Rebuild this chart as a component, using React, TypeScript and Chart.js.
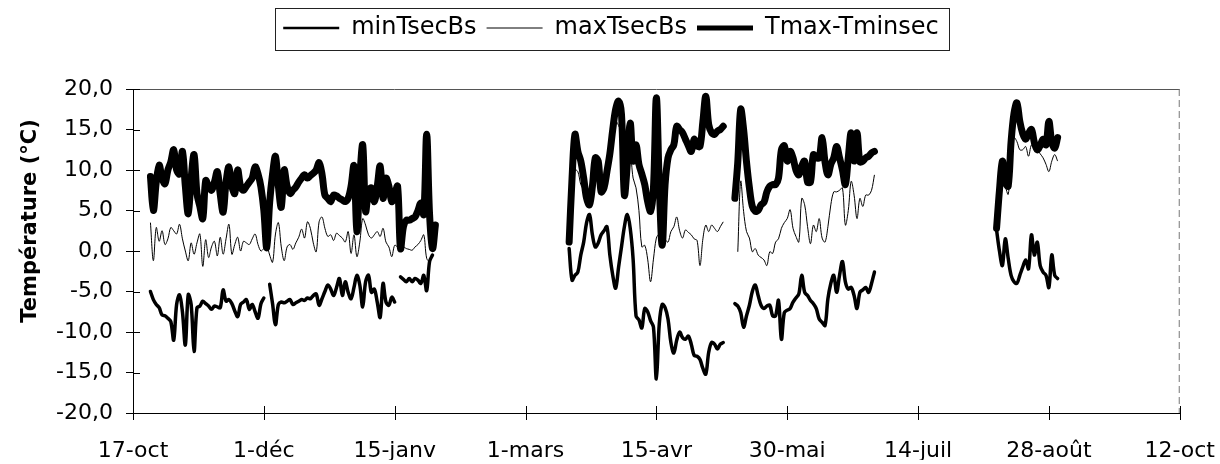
import { useEffect, useRef } from 'react';
import { Chart, registerables } from 'chart.js';

Chart.register(...registerables);

const FONT = "'DejaVu Sans', 'Liberation Sans', sans-serif";

// x axis: days counted from 17 October
const xTickLabels = ['17-oct', '1-déc', '15-janv', '1-mars', '15-avr', '30-mai', '14-juil', '28-août', '12-oct'];
const xStepDays = 45;
const xMaxDay = 360;
const yMin = -20;
const yMax = 20;
const yStep = 5;
const yTitle = 'Température (°C)';
const seriesNames = ['minTsecBs', 'maxTsecBs', 'Tmax-Tminsec'];
const legendLineWidths = [2.5, 1, 5];

// minTsecBs segments (first day of each segment, then daily values)
const minStarts = [6, 47, 92, 150, 207, 297];
const minSeg1 = [-5.0, -6.0, -6.6, -7.0, -7.9, -8.0, -8.3, -8.7, -11.0, -6.6, -5.4, -7.5, -11.6, -5.4, -6.6, -12.4, -7.0, -6.8, -6.2, -6.5, -6.8, -7.2, -6.8, -6.9, -7.0, -4.8, -6.2, -6.0, -6.5, -7.4, -8.1, -6.6, -6.3, -6.0, -7.2, -6.6, -7.5, -8.3, -6.5, -5.8];
const minSeg2 = [-4.1, -6.5, -9.1, -6.6, -6.3, -6.4, -6.2, -6.0, -6.6, -6.4, -6.2, -6.0, -6.1, -5.8, -5.9, -5.5, -5.3, -6.7, -5.9, -5.0, -4.2, -4.7, -5.5, -4.5, -3.4, -5.5, -3.8, -5.1, -5.9, -4.5, -3.0, -4.2, -6.9, -3.8, -3.0, -5.1, -4.7, -6.3, -8.2, -4.0, -6.3, -6.7, -5.7, -6.3];
const minSeg3 = [-3.2, -3.5, -3.8, -3.4, -3.8, -3.4, -3.6, -4.0, -3.0, -4.9, -1.3, -0.5];
const minSeg4 = [0.3, -3.6, -3.0, -2.6, -0.5, 1.1, 3.5, 4.5, 2.0, 0.5, 1.0, 2.0, 2.5, 3.0, -0.5, -3.0, -4.6, -2.0, 0.5, 3.0, 4.5, 2.8, -1.0, -8.0, -8.5, -9.5, -7.1, -7.5, -8.6, -9.4, -15.8, -9.0, -6.6, -7.0, -8.4, -11.3, -12.6, -11.0, -10.0, -10.7, -10.9, -10.5, -11.5, -12.9, -13.0, -13.4, -14.5, -15.2, -12.5, -11.3, -11.5, -12.1, -11.5, -11.3];
const minSeg5 = [-6.5, -6.8, -7.6, -9.4, -8.0, -6.7, -5.0, -4.2, -5.5, -6.7, -7.1, -6.8, -6.7, -8.0, -8.0, -6.1, -10.9, -7.6, -7.3, -7.1, -6.3, -5.8, -5.3, -3.0, -5.1, -5.5, -6.1, -6.5, -7.1, -8.4, -8.8, -9.2, -5.9, -4.0, -3.0, -5.1, -3.0, -1.3, -3.8, -4.7, -4.5, -5.5, -7.1, -5.1, -4.8, -4.5, -5.1, -4.0, -2.6];
const minSeg6 = [2.6, 0.0, -1.8, 1.5, -0.9, -3.0, -3.8, -4.0, -3.0, -2.0, -1.1, -2.2, 2.0, -0.5, 1.1, -1.8, -2.6, -3.0, -4.5, -0.5, -3.0, -3.4];

// maxTsecBs segments
const maxStarts = [6, 150, 208, 297];
const maxSeg1 = [3.5, -1.2, 2.9, 1.2, 2.5, 0.8, 1.5, 2.9, 2.5, 2.1, 3.3, 1.5, 0.0, -1.2, 1.0, -0.4, 1.0, 2.1, -1.9, 1.4, -0.8, 0.5, 1.2, -0.6, 1.7, -0.4, 1.5, 3.3, -0.4, 0.8, 1.7, 0.0, 1.2, 1.0, 0.8, 1.5, 2.1, 0.8, 0.0, 0.3, 0.6, -0.5, -1.4, 2.1, 3.5, 0.5, -1.2, 0.5, 0.8, 0.2, 1.0, 1.7, 2.7, 1.6, 3.6, 2.8, 1.0, -0.1, 3.6, 4.2, 2.8, 1.8, 2.0, 1.3, 2.2, 1.9, 1.6, 1.1, 2.4, -0.3, 2.0, -0.7, 1.1, 4.0, 3.2, 2.0, 1.6, 2.0, 2.4, 1.8, 2.8, 1.1, 0.5, -0.7, 0.7, 0.5, 0.3, 0.5, 0.3, 0.2, 0.1, 0.5, 0.8, 1.3, 2.0, -0.9, -1.3, -0.5];
const maxSeg2 = [1.0, 7.0, 10.0, 9.8, 8.2, 7.5, 6.0, 5.5, 7.0, 10.0, 10.0, 7.0, 7.5, 9.0, 11.5, 14.5, 16.0, 15.5, 14.4, 8.0, 10.0, 12.0, 9.0, 7.8, 5.0, 0.5, 0.7, -1.0, -3.8, -1.0, 1.6, 2.2, 2.8, 1.5, 1.1, 2.4, 3.0, 4.2, 2.5, 1.6, 2.6, 2.3, 2.0, 1.5, 1.3, -1.8, 1.5, 3.2, 2.4, 3.2, 2.8, 2.4, 3.0, 3.6];
const maxSeg3 = [-0.1, 8.6, 4.9, 2.4, 1.6, -0.1, 0.3, -0.5, -0.8, -1.1, -1.8, -0.1, -0.3, 1.1, 1.5, 2.8, 3.5, 4.0, 5.1, 2.8, 1.8, 1.1, 6.5, 5.7, 3.0, 0.9, 3.2, 2.4, 4.0, 1.6, 1.1, 3.0, 5.7, 7.3, 7.3, 7.5, 7.8, 3.2, 5.0, 8.6, 6.9, 4.0, 6.5, 5.5, 6.9, 6.9, 7.5, 9.4];
const maxSeg4 = [2.8, 5.0, 9.0, 8.0, 7.0, 11.0, 14.0, 13.5, 12.5, 12.5, 12.9, 11.7, 13.1, 12.8, 12.5, 12.0, 11.5, 10.7, 9.8, 11.1, 11.9, 11.1];

// Tmax-Tminsec segments
const ampStarts = [6, 150, 207, 297];
const ampSeg1 = [9.2, 5.0, 8.5, 10.6, 9.0, 8.3, 10.0, 11.0, 12.5, 10.0, 9.5, 12.3, 8.0, 4.6, 9.0, 11.9, 7.1, 5.5, 4.0, 8.7, 8.0, 7.5, 8.5, 9.8, 7.0, 4.8, 8.5, 10.4, 8.0, 7.1, 10.0, 8.0, 7.5, 8.0, 8.5, 9.0, 10.4, 9.5, 7.9, 5.0, 0.4, 6.0, 9.5, 11.7, 8.0, 5.4, 10.0, 8.0, 7.1, 7.5, 7.9, 8.5, 9.0, 9.4, 9.0, 9.3, 9.6, 10.0, 10.9, 9.5, 6.9, 6.5, 6.1, 6.9, 6.8, 6.5, 6.3, 6.1, 6.5, 8.0, 10.5, 2.4, 9.0, 13.1, 4.9, 7.3, 7.8, 6.1, 8.0, 10.5, 6.5, 9.0, 8.0, 6.1, 7.0, 8.0, 0.3, 3.0, 3.8, 3.8, 4.0, 4.2, 5.0, 5.9, 4.5, 14.4, 4.5, 0.3, 3.2];
const ampSeg2 = [1.1, 9.0, 14.4, 12.3, 11.1, 9.0, 6.5, 5.7, 8.0, 11.5, 11.1, 7.3, 7.8, 9.8, 12.0, 15.0, 17.5, 18.5, 16.9, 6.9, 10.7, 15.8, 11.1, 13.1, 10.7, 9.5, 8.2, 6.1, 4.9, 7.8, 18.9, 8.2, 0.7, 8.2, 11.5, 12.5, 13.1, 15.4, 15.0, 14.6, 13.8, 13.0, 12.3, 13.8, 13.0, 12.9, 16.0, 19.1, 15.6, 14.6, 14.4, 14.8, 15.0, 15.4];
const ampSeg3 = [6.5, 11.0, 17.5, 15.0, 11.0, 7.8, 5.5, 4.9, 5.0, 5.7, 6.0, 7.3, 8.0, 8.2, 8.2, 9.0, 12.5, 13.0, 11.1, 12.3, 11.5, 10.0, 9.4, 10.5, 11.1, 8.5, 8.5, 11.9, 11.5, 11.5, 14.0, 11.0, 9.4, 10.7, 11.5, 12.9, 11.5, 10.0, 8.2, 11.5, 14.6, 11.1, 14.6, 11.0, 11.1, 11.5, 11.7, 12.1, 12.3];
const ampSeg4 = [2.8, 7.5, 11.1, 8.5, 8.0, 13.5, 17.0, 18.3, 16.0, 14.5, 13.8, 14.5, 15.0, 13.4, 12.5, 13.0, 13.8, 13.1, 16.0, 13.4, 12.7, 14.0];

type Pt = { x: number; y: number | null };

function buildPoints(starts: number[], segs: number[][]): Pt[] {
  const pts: Pt[] = [];
  segs.forEach((seg, s) => {
    if (s > 0) {
      const prev = pts[pts.length - 1];
      pts.push({ x: prev.x + 0.5, y: null });
    }
    seg.forEach((v, i) => pts.push({ x: starts[s] + i, y: v }));
  });
  return pts;
}

const LEGEND_GAP = 39;
const LEGEND_SHIFT = -6;
const TICK_OUT = 7;
const TICK_IN = 7;

const decorPlugin = {
  id: 'decor',
  beforeInit(chart: any) {
    const lg = chart.legend;
    if (lg && !lg.__patched) {
      const fit = lg.fit.bind(lg);
      lg.fit = function () {
        fit();
        this.height += LEGEND_GAP;
      };
      lg.__patched = true;
    }
  },
  afterLayout(chart: any) {
    const lg = chart.legend;
    if (lg) {
      lg.left += LEGEND_SHIFT;
      lg.right += LEGEND_SHIFT;
    }
  },
  afterDraw(chart: any) {
    const { ctx, chartArea } = chart;
    const { left, right, top, bottom } = chartArea;
    ctx.save();
    // top and right frame lines
    ctx.strokeStyle = '#555';
    ctx.lineWidth = 1;
    ctx.beginPath();
    ctx.moveTo(left, top + 0.5);
    ctx.lineTo(right, top + 0.5);
    ctx.stroke();
    ctx.strokeStyle = '#777';
    ctx.setLineDash([7, 4]);
    ctx.beginPath();
    ctx.moveTo(right - 0.5, top);
    ctx.lineTo(right - 0.5, bottom);
    ctx.stroke();
    ctx.setLineDash([]);
    // tick marks crossing the axes
    ctx.strokeStyle = '#000';
    const xs = chart.scales.x;
    const ys = chart.scales.y;
    ctx.beginPath();
    xs.ticks.forEach((t: any) => {
      const px = Math.round(xs.getPixelForValue(t.value)) + 0.5;
      ctx.moveTo(px, bottom + TICK_OUT);
      ctx.lineTo(px, bottom - TICK_IN);
    });
    ys.ticks.forEach((t: any) => {
      const py = Math.round(ys.getPixelForValue(t.value)) + 0.5;
      ctx.moveTo(left, py);
      ctx.lineTo(left + TICK_IN, py);
    });
    ctx.stroke();
    // legend frame
    const lg = chart.legend;
    if (lg && lg.legendHitBoxes && lg.legendHitBoxes.length) {
      const hb = lg.legendHitBoxes;
      const x0 = hb[0].left - 8;
      const last = hb[hb.length - 1];
      const x1 = last.left + last.width + 10;
      const y0 = hb[0].top - 8;
      const y1 = hb[0].top + hb[0].height + 10;
      ctx.strokeStyle = '#222';
      ctx.lineWidth = 1;
      ctx.strokeRect(Math.round(x0) + 0.5, Math.round(y0) + 0.5, Math.round(x1 - x0), Math.round(y1 - y0));
    }
    // y axis title
    ctx.translate(31, 221);
    ctx.rotate(-Math.PI / 2);
    ctx.font = `bold 21px ${FONT}`;
    ctx.fillStyle = '#000';
    ctx.textAlign = 'center';
    ctx.textBaseline = 'middle';
    ctx.fillText(yTitle, 0, 0);
    ctx.restore();
  },
};

export default function App() {
  const ref = useRef<HTMLCanvasElement | null>(null);

  useEffect(() => {
    if (!ref.current) return;
    const tickFont = { family: FONT, size: 22 };
    const chart = new Chart(ref.current, {
      type: 'line',
      data: {
        datasets: [
          {
            label: seriesNames[0],
            data: buildPoints(minStarts, [minSeg1, minSeg2, minSeg3, minSeg4, minSeg5, minSeg6]) as any,
            borderColor: '#000',
            backgroundColor: '#000',
            borderWidth: 3.5,
            pointRadius: 0,
            tension: 0.35,
            borderJoinStyle: 'round',
            borderCapStyle: 'round',
            spanGaps: false,
            order: 1,
          },
          {
            label: seriesNames[1],
            data: buildPoints(maxStarts, [maxSeg1, maxSeg2, maxSeg3, maxSeg4]) as any,
            borderColor: '#000',
            backgroundColor: '#000',
            borderWidth: 1,
            pointRadius: 0,
            tension: 0.35,
            spanGaps: false,
            order: 2,
          },
          {
            label: seriesNames[2],
            data: buildPoints(ampStarts, [ampSeg1, ampSeg2, ampSeg3, ampSeg4]) as any,
            borderColor: '#000',
            backgroundColor: '#000',
            borderWidth: 7,
            pointRadius: 0,
            tension: 0.35,
            borderJoinStyle: 'round',
            borderCapStyle: 'round',
            spanGaps: false,
            order: 0,
          },
        ],
      },
      options: {
        animation: false,
        responsive: true,
        maintainAspectRatio: false,
        events: [],
        layout: { padding: { top: 6, left: 14, right: 0, bottom: 4 } },
        plugins: {
          tooltip: { enabled: false },
          title: { display: false },
          legend: {
            display: true,
            position: 'top',
            labels: {
              usePointStyle: true,
              pointStyle: 'line',
              pointStyleWidth: 56,
              padding: 10,
              color: '#000',
              font: { family: FONT, size: 24 },
              sort: (a: any, b: any) => a.datasetIndex - b.datasetIndex,
              generateLabels: (chart: any) =>
                Chart.defaults.plugins.legend.labels.generateLabels(chart).map((item: any) => ({
                  ...item,
                  lineWidth: legendLineWidths[item.datasetIndex],
                })),
            },
          },
        },
        scales: {
          x: {
            type: 'linear',
            min: 0,
            max: xMaxDay,
            ticks: {
              stepSize: xStepDays,
              autoSkip: false,
              maxRotation: 0,
              color: '#000',
              font: tickFont,
              padding: 5,
              callback: (v: any) => xTickLabels[Math.round(Number(v) / xStepDays)] ?? '',
            },
            grid: { drawOnChartArea: false, drawTicks: true, tickLength: 20, tickColor: 'rgba(0,0,0,0)', color: '#000' },
            border: { display: true, color: '#000', width: 1 },
            afterFit: (s: any) => {
              s.height = 47;
            },
          },
          y: {
            min: yMin,
            max: yMax,
            ticks: {
              stepSize: yStep,
              color: '#000',
              font: tickFont,
              padding: 13,
              callback: (v: any) => Number(v).toFixed(1).replace('.', ','),
            },
            grid: { drawOnChartArea: false, drawTicks: true, tickLength: 7, color: '#000' },
            border: { display: true, color: '#000', width: 1 },
            afterFit: (s: any) => {
              s.width = 119;
            },
          },
        },
      },
      plugins: [decorPlugin],
    });
    return () => chart.destroy();
  }, []);

  return (
    <div style={{ position: 'absolute', left: 0, top: 0, width: 1220, height: 464, background: '#fff' }}>
      <canvas ref={ref} />
    </div>
  );
}
